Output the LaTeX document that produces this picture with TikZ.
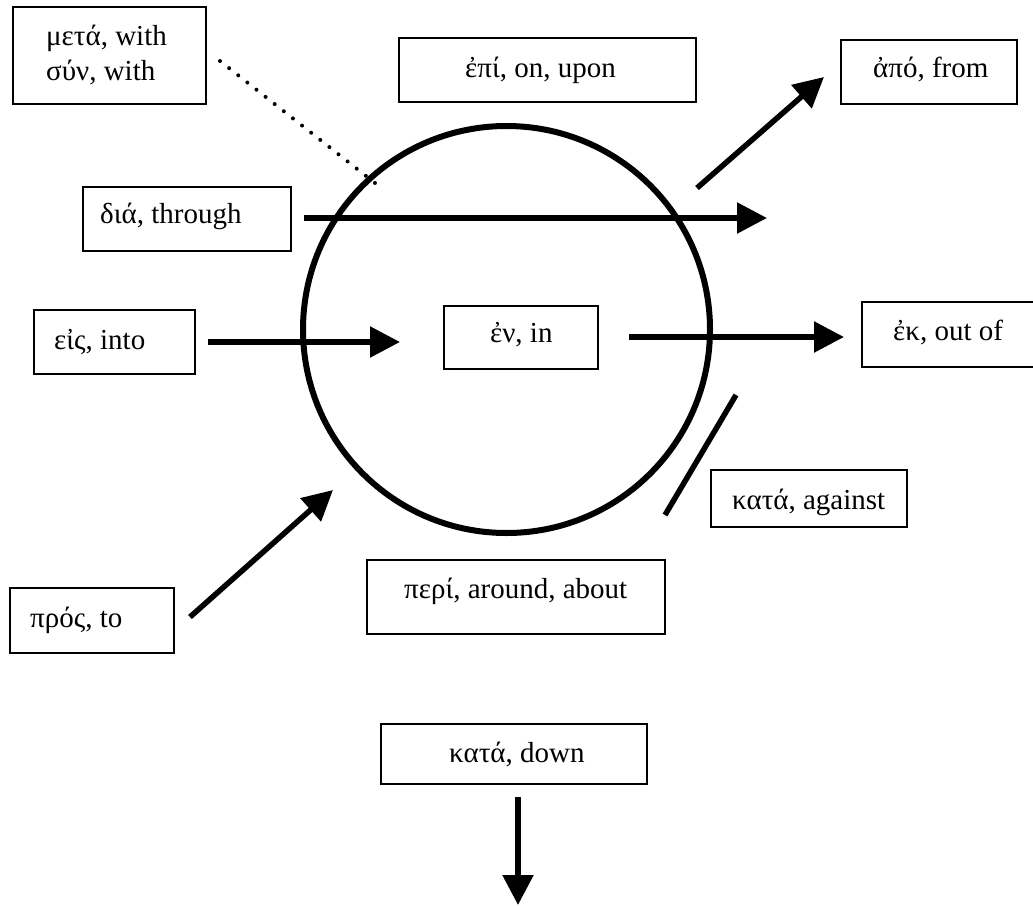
\documentclass[tikz,border=0pt]{standalone}
\usepackage{fontspec}
\setmainfont{Liberation Serif}
\usepackage{tikz}
\usetikzlibrary{arrows.meta}

\begin{document}
\begin{tikzpicture}[x=1pt, y=-1pt,
    wordbox/.style={draw, line width=1.8pt, inner sep=0pt, outer sep=0pt},
    word/.style={anchor=base west, inner sep=0pt, font=\fontsize{29}{35}\selectfont},
    motion/.style={line width=5.5pt, -{Triangle[length=30pt, width=30pt]}}]
  \useasboundingbox (0,0) rectangle (1033,905);
  \clip (0,0) rectangle (1033,905);

  % the sphere
  \node[draw, circle, line width=6pt, minimum size=407pt, inner sep=0pt] (sphere) at (506.5,329.5) {};

  % boxes
  \node[wordbox, minimum width=193pt, minimum height=97pt] (meta) at (109.5,55.5) {};
  \node[word, align=left] (meta-t) at (46,80) {μετά, with\\σύν, with};
  \node[wordbox, minimum width=297pt, minimum height=64pt] (epi) at (547.5,70) {};
  \node[word] (epi-t) at (465,77) {ἐπί, on, upon};
  \node[wordbox, minimum width=176pt, minimum height=64pt] (apo) at (929,72) {};
  \node[word] (apo-t) at (873,77) {ἀπό, from};
  \node[wordbox, minimum width=208pt, minimum height=64pt] (dia) at (187,219) {};
  \node[word] (dia-t) at (100,223) {διά, through};
  \node[wordbox, minimum width=161pt, minimum height=64pt] (eis) at (114.5,342) {};
  \node[word] (eis-t) at (54,349) {εἰς, into};
  \node[wordbox, minimum width=154pt, minimum height=63pt] (en) at (521,337.5) {};
  \node[word] (en-t) at (490,342) {ἐν, in};
  \node[wordbox, minimum width=218pt, minimum height=65pt] (ek) at (971,334.5) {};
  \node[word] (ek-t) at (893,340) {ἐκ, out of};
  \node[wordbox, minimum width=196pt, minimum height=57pt] (kataag) at (809,498.5) {};
  \node[word] (kataag-t) at (732,509) {κατά, against};
  \node[wordbox, minimum width=298pt, minimum height=74pt] (peri) at (516,597) {};
  \node[word] (peri-t) at (404,598) {περί, around, about};
  \node[wordbox, minimum width=164pt, minimum height=65pt] (pros) at (92,620.5) {};
  \node[word] (pros-t) at (30,627) {πρός, to};
  \node[wordbox, minimum width=266pt, minimum height=60pt] (katadown) at (514,754) {};
  \node[word] (katadown-t) at (449,762) {κατά, down};

  % ends of the connectors
  \coordinate (meta-a) at (220,61);
  \coordinate (meta-b) at (375,183);
  \coordinate (dia-a) at (304,218);
  \coordinate (dia-b) at (767,218);
  \coordinate (apo-a) at (697,188);
  \coordinate (apo-b) at (824,77);
  \coordinate (eis-a) at (208,342);
  \coordinate (eis-b) at (400,342);
  \coordinate (en-a) at (629,337);
  \coordinate (en-b) at (844,337);
  \coordinate (kataag-a) at (736,395);
  \coordinate (kataag-b) at (665,515);
  \coordinate (pros-a) at (190,617);
  \coordinate (pros-b) at (333,490);
  \coordinate (katadown-a) at (518,797);
  \coordinate (katadown-b) at (518,905);

  \draw[line width=4pt, line cap=round, dash pattern=on 0pt off 11.6pt] (meta-a) -- (meta-b);
  \draw[motion] (dia-a) -- (dia-b);
  \draw[motion] (apo-a) -- (apo-b);
  \draw[motion] (eis-a) -- (eis-b);
  \draw[motion] (en-a) -- (en-b);
  \draw[line width=5.5pt] (kataag-a) -- (kataag-b);
  \draw[motion] (pros-a) -- (pros-b);
  \draw[motion] (katadown-a) -- (katadown-b);
\end{tikzpicture}
\end{document}
